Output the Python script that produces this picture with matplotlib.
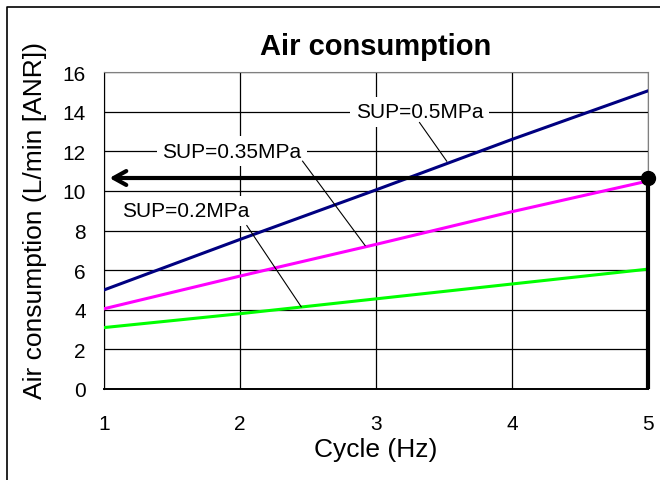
import numpy as np
import matplotlib
matplotlib.use('Agg')
import matplotlib.pyplot as plt
from matplotlib.lines import Line2D

plt.rcParams['font.family'] = ['Liberation Sans', 'DejaVu Sans']

# data
cycle = [1, 2, 3, 4, 5]
sup_05 = [5.0, 7.55, 10.05, 12.6, 15.05]
sup_035 = [4.05, 5.7, 7.3, 8.95, 10.5]
sup_02 = [3.1, 3.8, 4.55, 5.3, 6.05]
xticks = [1, 2, 3, 4, 5]
yticks = [0, 2, 4, 6, 8, 10, 12, 14, 16]
read_y = 10.65

fig = plt.figure(figsize=(6.6, 4.81), dpi=100)
ax = fig.add_axes([0.1576, 0.1892, 0.8242, 0.659])

# outer frame (runs off the right/bottom edge)
fig.add_artist(Line2D([0.0106, 0.0106, 1.0], [0.0, 0.983, 0.983],
                      transform=fig.transFigure, color='black', lw=1.2))

ax.plot(cycle, sup_05, color='#000080', lw=2.2, zorder=3)
ax.plot(cycle, sup_035, color='#FF00FF', lw=2.2, zorder=3)
ax.plot(cycle, sup_02, color='#00FF00', lw=2.2, zorder=3)

ax.set_xlim(1, 5)
ax.set_ylim(0, 16)
ax.set_xticks(xticks)
ax.set_yticks(yticks)
ax.grid(True, color='black', lw=0.9)
ax.set_axisbelow(True)
ax.tick_params(length=0, labelsize=15)
ax.tick_params(axis='x', pad=18)
ax.tick_params(axis='y', pad=13)
for s in ['top', 'right']:
    ax.spines[s].set_color('#808080')
for s in ['left', 'bottom']:
    ax.spines[s].set_color('black')
ax.spines['bottom'].set_linewidth(1.4)

# reading arrow with dot
ax.annotate('', xy=(1.04, read_y), xytext=(5, read_y),
            arrowprops=dict(arrowstyle='->,head_length=0.9,head_width=0.5',
                            lw=3, color='black', shrinkA=0, shrinkB=0),
            zorder=5, annotation_clip=False)
ax.plot([5, 5], [0, read_y], color='black', lw=3, zorder=5, clip_on=False,
        solid_capstyle='butt')
ax.plot([5], [read_y], 'o', color='black', ms=10, zorder=6, clip_on=False)

# labels with leader lines
box = dict(facecolor='white', edgecolor='none', pad=4)
ax.text(3.32, 14, 'SUP=0.5MPa', fontsize=15, ha='center', va='center', bbox=box, zorder=4)
ax.plot([3.32, 3.52], [13.45, 11.5], color='black', lw=0.8, zorder=4)
ax.text(1.94, 12, 'SUP=0.35MPa', fontsize=15, ha='center', va='center', bbox=box, zorder=4)
ax.plot([2.46, 2.92], [11.5, 7.24], color='black', lw=0.8, zorder=4)
ax.text(1.6, 9.0, 'SUP=0.2MPa', fontsize=15, ha='center', va='center', bbox=box, zorder=4)
ax.plot([2.05, 2.45], [8.25, 4.15], color='black', lw=0.8, zorder=4)

ax.set_title('Air consumption', fontsize=21, fontweight='bold', pad=13)
ax.set_xlabel('Cycle (Hz)', fontsize=19, labelpad=3)
ax.set_ylabel('Air consumption (L/min [ANR])', fontsize=19)
ax.yaxis.set_label_coords(-0.105, 0.535)

plt.savefig('out.png', dpi=100)
